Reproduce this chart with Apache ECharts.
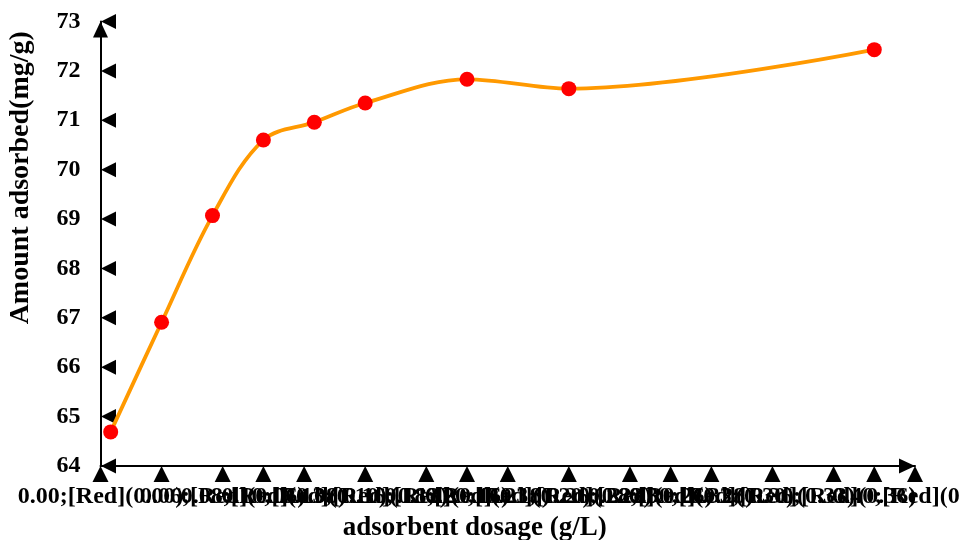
<!DOCTYPE html>
<html>
<head>
<meta charset="utf-8">
<script src="https://cdn.jsdelivr.net/npm/echarts@6/dist/echarts.min.js"></script>
<style>
  html, body { margin: 0; padding: 0; background: #fff; }
  #chart { width: 960px; height: 540px; }
</style>
</head>
<body>
<div id="chart"></div>
<script>
// Adsorbent dosage (g/L) and amount adsorbed (mg/g)
const dosage = [0.005, 0.03, 0.055, 0.08, 0.105, 0.13, 0.18, 0.23, 0.38];
const adsorbed = [64.69, 66.91, 69.07, 70.60, 70.96, 71.35, 71.83, 71.64, 72.43];

// Tick positions along each axis
const xTickValues = [0, 0.03, 0.06, 0.08, 0.10, 0.13, 0.16, 0.18, 0.20, 0.23, 0.26, 0.28, 0.30, 0.33, 0.36, 0.38, 0.40];
const yTickValues = [64, 65, 66, 67, 68, 69, 70, 71, 72, 73];

const X_MIN = 0, X_MAX = 0.4, Y_MIN = 64, Y_MAX = 73;
const FONT = '"Liberation Serif", "Times New Roman", serif';

// Tick labels carry the raw number-format pattern of the source sheet
function xLabel(v) {
  const s = v.toFixed(2);
  return s + ';[Red](' + s + ')';
}

const chart = echarts.init(document.getElementById('chart'), null, { renderer: 'canvas' });

chart.setOption({
  animation: false,
  backgroundColor: '#ffffff',
  grid: {
    left: 100.5, right: 45, top: 21.5, bottom: 74,
    containLabel: false,
    outerBoundsMode: 'none'
  },
  xAxis: {
    type: 'value',
    min: X_MIN, max: X_MAX,
    name: 'adsorbent dosage (g/L)',
    nameLocation: 'middle',
    nameGap: 49,
    nameTextStyle: {
      fontFamily: FONT, fontWeight: 'bold', fontSize: 27, color: '#000',
      padding: [0, 66, 0, 0]
    },
    axisLine: {
      show: true,
      lineStyle: { color: '#000', width: 2 },
      symbol: ['none', 'triangle'],
      symbolSize: [15, 16],
      symbolOffset: [0, -8]
    },
    axisTick: { show: false },
    splitLine: { show: false },
    axisLabel: {
      customValues: xTickValues,
      showMinLabel: true,
      showMaxLabel: true,
      formatter: xLabel,
      fontFamily: FONT, fontWeight: 'bold', fontSize: 24, color: '#000',
      margin: 19,
      hideOverlap: false
    }
  },
  yAxis: {
    type: 'value',
    min: Y_MIN, max: Y_MAX, interval: 1,
    name: 'Amount adsorbed(mg/g)',
    nameLocation: 'middle',
    nameRotate: 90,
    nameGap: 66,
    nameTextStyle: {
      fontFamily: FONT, fontWeight: 'bold', fontSize: 28, color: '#000',
      padding: [0, 0, 0, 132]
    },
    axisLine: {
      show: true,
      lineStyle: { color: '#000', width: 2 },
      symbol: ['none', 'triangle'],
      symbolSize: [15, 16],
      symbolOffset: [0, -8]
    },
    axisTick: { show: false },
    splitLine: { show: false },
    axisLabel: {
      fontFamily: FONT, fontWeight: 'bold', fontSize: 24, color: '#000',
      margin: 20
    }
  },
  series: [
    {
      // triangular tick marks under the x axis
      type: 'scatter',
      silent: true,
      clip: false,
      z: 3,
      symbol: 'triangle',
      symbolSize: [16, 16],
      symbolOffset: [0, 8],
      itemStyle: { color: '#000', opacity: 1 },
      data: xTickValues.map(v => [v, Y_MIN])
    },
    {
      // triangular tick marks beside the y axis
      type: 'scatter',
      silent: true,
      clip: false,
      z: 3,
      symbol: 'triangle',
      symbolSize: [15, 15],
      symbolRotate: 90,
      symbolOffset: [8, 0],
      itemStyle: { color: '#000', opacity: 1 },
      data: yTickValues.map(v => [X_MIN, v])
    },
    {
      type: 'line',
      z: 4,
      smooth: 0.35,
      symbol: 'circle',
      symbolSize: 15,
      showAllSymbol: true,
      lineStyle: { color: '#FF9900', width: 3.8 },
      itemStyle: { color: '#FF0000', borderWidth: 0, opacity: 1 },
      data: dosage.map((d, i) => [d, adsorbed[i]])
    }
  ]
});
</script>
</body>
</html>
